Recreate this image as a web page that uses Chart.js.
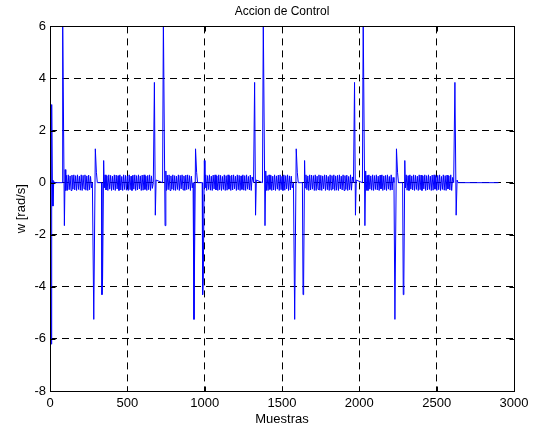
<!DOCTYPE html>
<html>
<head>
<meta charset="utf-8">
<script src="https://cdn.jsdelivr.net/npm/chart.js@4.4.1/dist/chart.umd.min.js"></script>
<style>
  html, body { margin: 0; padding: 0; background: #fff; }
</style>
</head>
<body>
<canvas id="myChart" width="543" height="430"></canvas>
<script>
const ctx = document.getElementById("myChart").getContext("2d");

// axis ticks
const xTicks = [0, 500, 1000, 1500, 2000, 2500, 3000];
const yTicks = [-8, -6, -4, -2, 0, 2, 4, 6];

// spikes and flat parts (sample, value)
const eventSamples = [
  0, 5, 8, 11, 15, 19, 24, 30, 78, 82, 93, 98, 102,
  274, 283, 293, 300, 306, 333, 336, 340, 347, 351,
  668, 675, 681, 686, 728, 733, 744, 749, 753,
  925, 931, 941, 948, 954, 984, 987, 991, 998, 1002,
  1316, 1323, 1329, 1334, 1374, 1379, 1390, 1395, 1399,
  1574, 1582, 1592, 1599, 1605, 1632, 1636, 1640, 1646, 1650,
  1962, 1969, 1975, 1980, 2020, 2025, 2036, 2041, 2045,
  2224, 2230, 2240, 2247, 2253, 2280, 2284, 2288, 2294, 2298,
  2610, 2618, 2626, 2632, 2638, 2900,
];
const eventValues = [
  0, 0, -6.2, 3.0, 0.1, -0.9, 0.05, 0, 0, 6.3, -1.65, 0.5, -0.3,
  0, -5.25, 1.3, 0.4, 0, 0, -4.3, -3.7, 0.85, -0.2,
  0, 3.85, -1.25, 0.1, 0, 6.3, -1.65, 0.45, -0.3,
  0, -5.25, 1.3, 0.4, 0, 0, -4.3, -3.7, 0.85, -0.2,
  0, 3.85, -1.25, 0.1, 0, 6.3, -1.65, 0.45, -0.3,
  0, -5.25, 1.3, 0.4, 0, 0, -4.3, -3.7, 0.85, -0.2,
  0, 3.85, -1.25, 0.1, 0, 6.3, -1.65, 0.45, -0.3,
  0, -5.25, 1.3, 0.4, 0, 0, -4.3, -3.7, 0.85, -0.2,
  0, 3.85, -1.25, 0.1, 0, 0,
];

// chattering between the spikes, one value every bandStep samples
const bandStarts = [106, 356, 758, 1007, 1404, 1655, 2050, 2303];
const bandStep = 6;
const band1 = [0.28,-0.3,0.3,-0.27,0.26,-0.3,0.29,-0.25,0.3,-0.28,0.27,-0.3,0.3,-0.26,0.25,-0.29,0.3,-0.3,0.28,-0.24,0.3,-0.29,0.26,-0.3,0.29,-0.27,0.24,-0.2];
const band2 = [0.3,-0.28,0.27,-0.3,0.3,-0.25,0.28,-0.3,0.25,-0.27,0.3,-0.3,0.29,-0.24,0.27,-0.3,0.3,-0.28,0.24,-0.3,0.3,-0.26,0.28,-0.29,0.26,-0.3,0.3,-0.27,0.25,-0.3,0.29,-0.25,0.3,-0.3,0.27,-0.28,0.3,-0.24,0.26,-0.3,0.29,-0.29,0.3,-0.26,0.25,-0.3,0.28,-0.27,0.3,-0.3,0.26,-0.22];
const band3 = [0.29,-0.27,0.3,-0.3,0.26,-0.25,0.3,-0.29,0.27,-0.3,0.25,-0.26,0.3,-0.3,0.28,-0.24,0.3,-0.28,0.26,-0.3,0.29,-0.27,0.3,-0.25,0.27,-0.3,0.25,-0.2];
const band4 = [0.3,-0.3,0.27,-0.26,0.3,-0.29,0.25,-0.3,0.29,-0.24,0.3,-0.28,0.26,-0.3,0.3,-0.27,0.28,-0.3,0.24,-0.26,0.3,-0.3,0.27,-0.29,0.3,-0.25,0.26,-0.3,0.29,-0.28,0.3,-0.24,0.25,-0.3,0.3,-0.27,0.28,-0.3,0.26,-0.26,0.3,-0.29,0.27,-0.3,0.3,-0.25,0.24,-0.28,0.29,-0.3,0.22];
const band5 = [0.27,-0.3,0.3,-0.26,0.28,-0.3,0.25,-0.28,0.3,-0.3,0.26,-0.25,0.29,-0.3,0.3,-0.27,0.24,-0.3,0.3,-0.29,0.27,-0.24,0.3,-0.3,0.26,-0.28,0.25,-0.2];
const band6 = [0.3,-0.27,0.26,-0.3,0.3,-0.28,0.29,-0.25,0.27,-0.3,0.3,-0.3,0.25,-0.26,0.3,-0.29,0.28,-0.3,0.26,-0.24,0.3,-0.3,0.29,-0.27,0.24,-0.3,0.3,-0.28,0.27,-0.25,0.3,-0.3,0.26,-0.29,0.28,-0.3,0.3,-0.24,0.25,-0.28,0.3,-0.3,0.27,-0.26,0.29,-0.3,0.24,-0.27,0.3,-0.29,0.22];
const band7 = [0.28,-0.3,0.3,-0.25,0.26,-0.29,0.3,-0.3,0.27,-0.26,0.3,-0.28,0.25,-0.3,0.29,-0.24,0.3,-0.3,0.26,-0.27,0.28,-0.3,0.3,-0.25,0.24,-0.29,0.3,-0.28,0.2];
const band8 = [0.3,-0.29,0.27,-0.3,0.3,-0.25,0.26,-0.28,0.3,-0.3,0.28,-0.26,0.25,-0.3,0.3,-0.27,0.29,-0.3,0.26,-0.24,0.3,-0.3,0.27,-0.28,0.3,-0.26,0.25,-0.3,0.29,-0.29,0.3,-0.25,0.26,-0.3,0.28,-0.27,0.3,-0.3,0.24,-0.26,0.3,-0.29,0.27,-0.3,0.29,-0.24,0.26,-0.28,0.3,-0.3,0.2];
const bands = [band1, band2, band3, band4, band5, band6, band7, band8];

// merge everything into one sorted series
const points = eventSamples.map((s, i) => ({ x: s, y: eventValues[i] }));
bands.forEach((band, b) => {
  band.forEach((v, i) => points.push({ x: bandStarts[b] + i * bandStep, y: v }));
});
points.sort((a, b) => a.x - b.x);

const font = "'Liberation Sans', Arial, sans-serif";

// hide grid lines that sit on the box edges
const gridColor = (c) => {
  const v = c.tick ? c.tick.value : null;
  return v === -8 || v === 6 || v === 0 && c.scale.axis === "x" || v === 3000 ? "rgba(0,0,0,0)" : "#000";
};

// matlab style box with inner tick marks
const axesBox = {
  id: "axesBox",
  afterDatasetsDraw(chart) {
    const { ctx, chartArea: a, scales } = chart;
    const L = Math.round(a.left) + 0.5, R = Math.round(a.right) + 0.5;
    const T = Math.round(a.top) + 0.5, B = Math.round(a.bottom) + 0.5;
    ctx.save();
    ctx.setLineDash([]);
    ctx.strokeStyle = "#000";
    ctx.lineWidth = 1;
    ctx.beginPath();
    yTicks.forEach((v) => {
      const y = Math.round(scales.y.getPixelForValue(v)) + 0.5;
      ctx.moveTo(L, y); ctx.lineTo(L + 5, y);
      ctx.moveTo(R, y); ctx.lineTo(R - 5, y);
    });
    xTicks.forEach((v) => {
      const x = Math.round(scales.x.getPixelForValue(v)) + 0.5;
      ctx.moveTo(x, B); ctx.lineTo(x, B - 5);
      ctx.moveTo(x, T); ctx.lineTo(x, T + 5);
    });
    ctx.stroke();
    ctx.strokeRect(L, T, R - L, B - T);
    ctx.restore();
  },
};

const config = {
  type: "line",
  data: {
    datasets: [
      {
        data: points,
        borderColor: "#0000ff",
        borderWidth: 1,
        pointRadius: 0,
        tension: 0,
        fill: false,
      },
    ],
  },
  options: {
    responsive: false,
    animation: false,
    events: [],
    layout: { padding: { left: 0, right: 29, top: 0, bottom: 0 } },
    plugins: {
      legend: { display: false },
      tooltip: { enabled: false },
      title: {
        display: true,
        text: "Accion de Control",
        color: "#000",
        fullSize: false,
        font: { family: font, size: 12, weight: "normal" },
        padding: { top: 4, bottom: 8 },
      },
    },
    scales: {
      x: {
        type: "linear",
        min: 0,
        max: 3000,
        afterBuildTicks: (axis) => { axis.ticks = xTicks.map((v) => ({ value: v })); },
        afterFit: (axis) => { axis.height = 39; },
        grid: { color: gridColor, lineWidth: 1, drawTicks: false },
        border: { display: false, dash: [7, 5] },
        ticks: {
          color: "#000",
          font: { family: font, size: 13 },
          padding: 5,
          maxRotation: 0,
          callback: (value) => String(value),
        },
        title: {
          display: true,
          text: "Muestras",
          color: "#000",
          font: { family: font, size: 13 },
          padding: { top: 0, bottom: 3 },
        },
      },
      y: {
        min: -8,
        max: 6,
        afterBuildTicks: (axis) => { axis.ticks = yTicks.map((v) => ({ value: v })); },
        afterFit: (axis) => { axis.width = 50; },
        grid: { color: gridColor, lineWidth: 1, drawTicks: false },
        border: { display: false, dash: [7, 5] },
        ticks: {
          color: "#000",
          font: { family: font, size: 13 },
          padding: 4,
          callback: (value) => String(value),
        },
        title: {
          display: true,
          text: "w [rad/s]",
          color: "#000",
          font: { family: font, size: 13 },
          padding: { top: 14, bottom: 0 },
        },
      },
    },
  },
  plugins: [axesBox],
};

let myChart = new Chart(ctx, config);
</script>
</body>
</html>
